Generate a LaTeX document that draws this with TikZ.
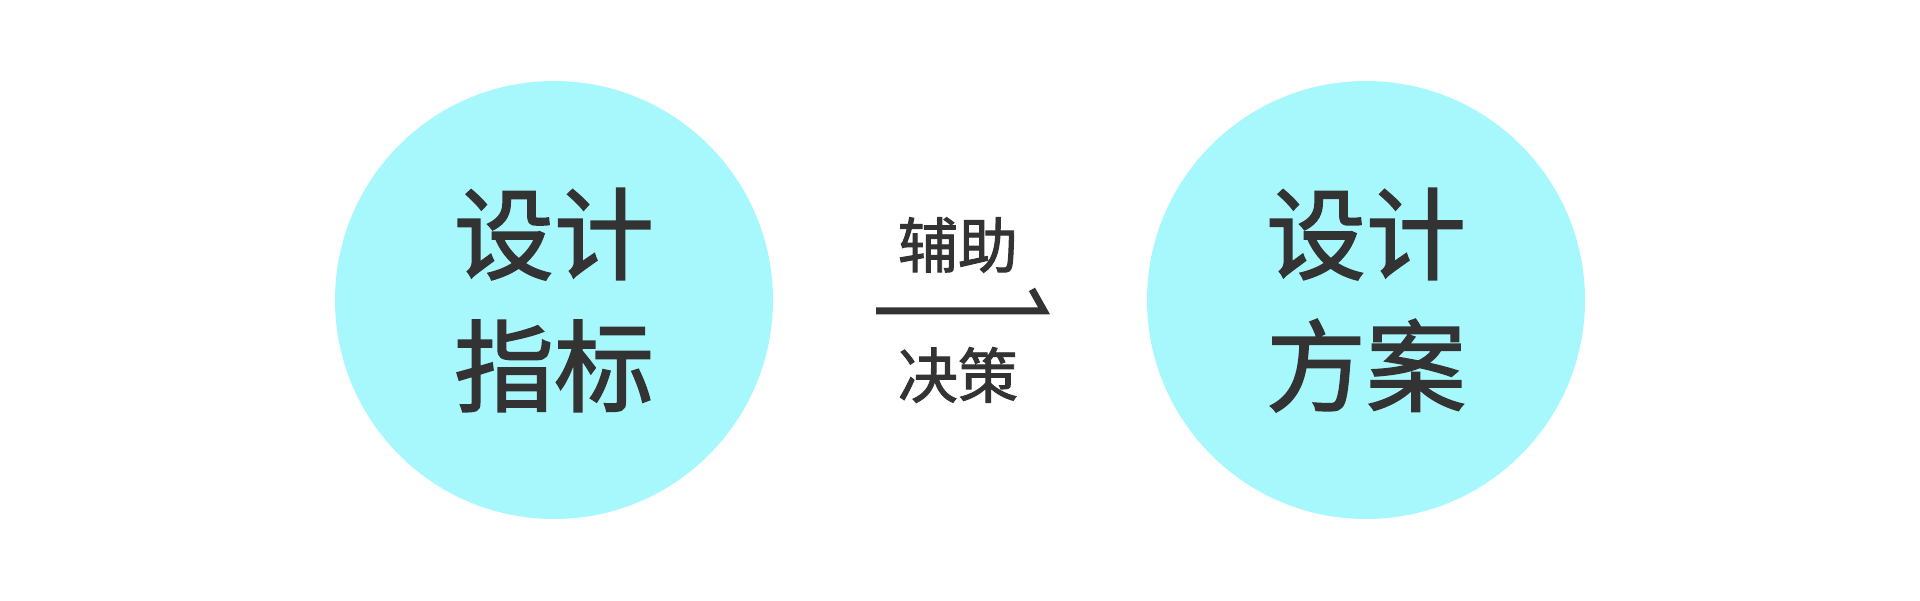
\documentclass[tikz,border=0pt]{standalone}
\usepackage{fontspec}
\newfontfamily\cjk{Noto Sans CJK SC}[FakeBold=1.6]
\definecolor{bubblecyan}{RGB}{166,248,253}
\definecolor{inkgray}{RGB}{51,51,51}
\begin{document}
\begin{tikzpicture}[x=1pt,y=-1pt,
  bubble/.style={circle, fill=bubblecyan, draw=none, minimum size=438pt, inner sep=0pt,
    align=center, text=inkgray, font=\cjk\fontsize{100}{132}\selectfont},
  midlabel/.style={inner sep=0pt, text=inkgray, font=\cjk\fontsize{60}{72}\selectfont}]
\useasboundingbox (0,0) rectangle (1920,600);
\node[bubble] (L) at (554,300) {设计\\指标};
\node[bubble] (R) at (1366,300) {设计\\方案};
\node[midlabel] (top) at (958,245) {辅助};
\node[midlabel] (bot) at (958,375) {决策};
\coordinate (a0) at (876,307.3);
\fill[inkgray] (a0) -- (1038,307.3) -- (1028.9,291.1) -- (1035,287.7) -- (1050,314.3) -- (876,314.3) -- cycle;
\end{tikzpicture}
\end{document}
